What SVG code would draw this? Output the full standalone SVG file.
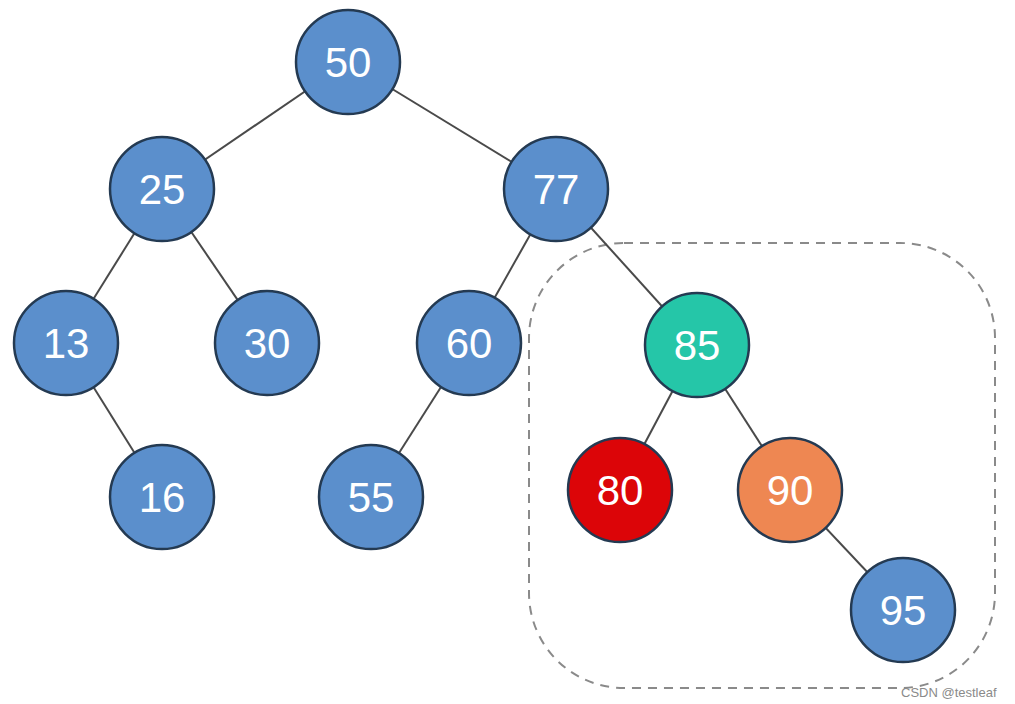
<svg xmlns="http://www.w3.org/2000/svg" width="1015" height="704" viewBox="0 0 1015 704">
<style>
.n circle{stroke:#243a52;stroke-width:2.5}
.b circle{fill:#5b8fcc}
.n text{font-family:"Liberation Sans",Arial,sans-serif;font-size:42px;fill:#fff;text-anchor:middle;dominant-baseline:central}
.e line{stroke:#4a4a4a;stroke-width:2}
</style>
<rect width="1015" height="704" fill="#fff"/>
<rect x="529" y="243" width="466" height="445" rx="95" ry="95" fill="none" stroke="#8a8a8a" stroke-width="2" stroke-dasharray="9 7"/>
<g id="connectors" class="e">
<line x1="348" y1="62" x2="162" y2="189"/>
<line x1="348" y1="62" x2="556" y2="189"/>
<line x1="162" y1="189" x2="66" y2="343"/>
<line x1="162" y1="189" x2="267" y2="343"/>
<line x1="556" y1="189" x2="469" y2="343"/>
<line x1="556" y1="189" x2="697" y2="345"/>
<line x1="66" y1="343" x2="162" y2="497"/>
<line x1="469" y1="343" x2="371" y2="497"/>
<line x1="697" y1="345" x2="620" y2="490"/>
<line x1="697" y1="345" x2="790" y2="490"/>
<line x1="790" y1="490" x2="903" y2="610"/>
</g>
<g id="n50" class="n b"><circle cx="348" cy="62" r="52"/><text x="348" y="62">50</text></g>
<g id="n25" class="n b"><circle cx="162" cy="189" r="52"/><text x="162" y="189">25</text></g>
<g id="n77" class="n b"><circle cx="556" cy="189" r="52"/><text x="556" y="189">77</text></g>
<g id="n13" class="n b"><circle cx="66" cy="343" r="52"/><text x="66" y="343">13</text></g>
<g id="n30" class="n b"><circle cx="267" cy="343" r="52"/><text x="267" y="343">30</text></g>
<g id="n60" class="n b"><circle cx="469" cy="343" r="52"/><text x="469" y="343">60</text></g>
<g id="n85" class="n"><circle cx="697" cy="345" r="52" fill="#25c6a8"/><text x="697" y="345">85</text></g>
<g id="n16" class="n b"><circle cx="162" cy="497" r="52"/><text x="162" y="497">16</text></g>
<g id="n55" class="n b"><circle cx="371" cy="497" r="52"/><text x="371" y="497">55</text></g>
<g id="n80" class="n"><circle cx="620" cy="490" r="52" fill="#dc0508"/><text x="620" y="490">80</text></g>
<g id="n90" class="n"><circle cx="790" cy="490" r="52" fill="#ee8752"/><text x="790" y="490">90</text></g>
<g id="n95" class="n b"><circle cx="903" cy="610" r="52"/><text x="903" y="610">95</text></g>
<text x="901" y="697" font-family="Liberation Sans,Arial,sans-serif" font-size="13" fill="#8a8a8a">CSDN @testleaf</text>
</svg>
